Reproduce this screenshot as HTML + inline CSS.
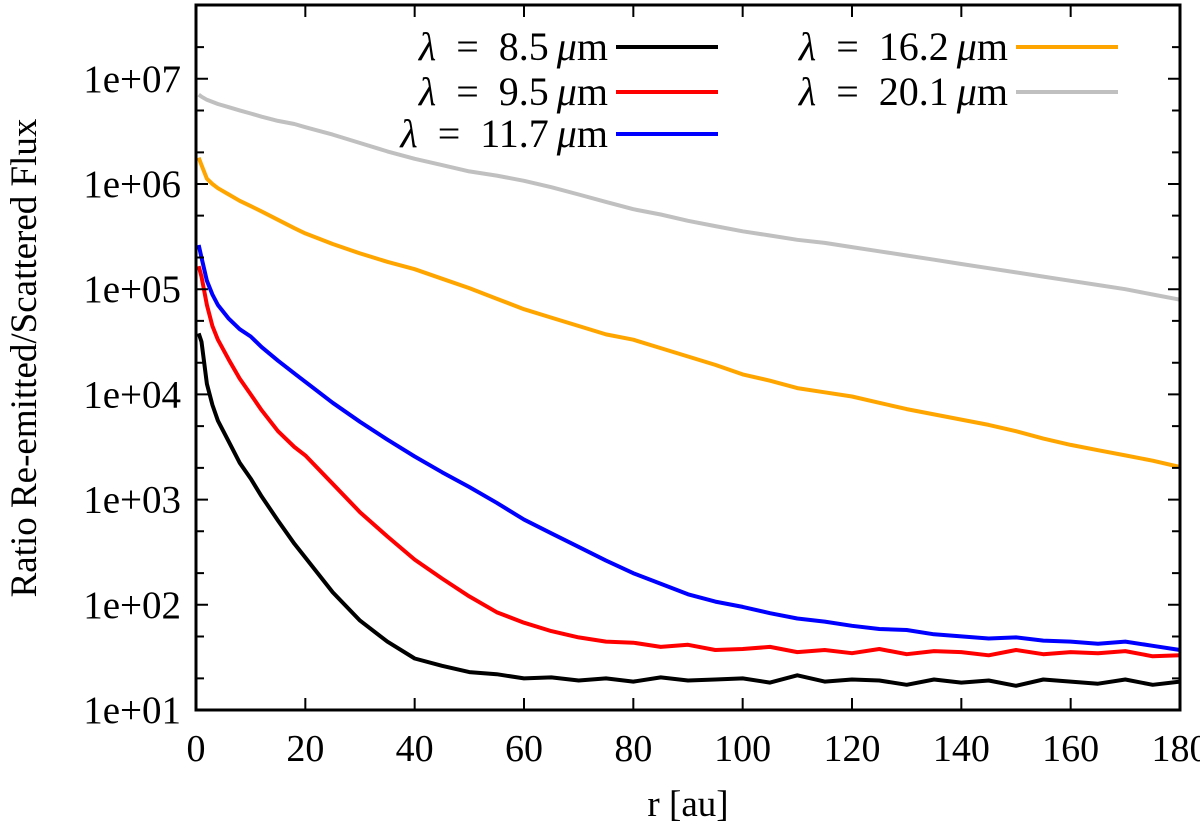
<!DOCTYPE html>
<html><head><meta charset="utf-8"><style>
body{margin:0;background:#fff}
svg text{font-family:"Liberation Serif",serif;fill:#000}
</style></head><body>
<svg id="chart" width="1200" height="833" viewBox="0 0 1200 833" xmlns="http://www.w3.org/2000/svg">
<g id="series"></g>
<rect x="196" y="5" width="984" height="705" fill="none" stroke="#000" stroke-width="3"/>
<g id="ticks"></g>
<text x="688" y="816" font-size="37" text-anchor="middle">r [au]</text>
<text transform="translate(36,358) rotate(-90)" font-size="37" text-anchor="middle">Ratio Re-emitted/Scattered Flux</text>
<g id="legend"></g>
</svg>
<script>
const rVals=[0.5,1,2,3,4,6,8,10,12,15,18,20,25,30,35,40,45,50,55,60,65,70,75,80,85,90,95,100,105,110,115,120,125,130,135,140,145,150,155,160,165,170,175,180];
const logBlack=[4.58,4.5,4.1,3.9,3.75,3.55,3.35,3.2,3.03,2.8,2.58,2.45,2.12,1.85,1.65,1.49,1.42,1.36,1.34,1.30,1.31,1.28,1.30,1.27,1.31,1.28,1.29,1.30,1.26,1.33,1.27,1.29,1.28,1.24,1.29,1.26,1.28,1.23,1.29,1.27,1.25,1.29,1.24,1.27];
const logRed=[5.22,5.12,4.85,4.65,4.52,4.33,4.15,4.0,3.85,3.65,3.5,3.42,3.15,2.88,2.65,2.43,2.25,2.08,1.93,1.83,1.75,1.69,1.65,1.64,1.60,1.62,1.57,1.58,1.60,1.55,1.57,1.54,1.58,1.53,1.56,1.55,1.52,1.57,1.53,1.55,1.54,1.56,1.51,1.52];
const logBlue=[5.42,5.3,5.08,4.95,4.85,4.72,4.62,4.55,4.45,4.32,4.2,4.12,3.92,3.74,3.57,3.41,3.26,3.12,2.97,2.81,2.68,2.55,2.42,2.3,2.2,2.1,2.03,1.98,1.92,1.87,1.84,1.80,1.77,1.76,1.72,1.70,1.68,1.69,1.66,1.65,1.63,1.65,1.61,1.57];
const logOrange=[6.25,6.18,6.05,6.0,5.96,5.9,5.84,5.79,5.74,5.66,5.58,5.53,5.43,5.34,5.26,5.19,5.1,5.01,4.91,4.81,4.73,4.65,4.57,4.52,4.44,4.36,4.28,4.19,4.13,4.06,4.02,3.98,3.92,3.86,3.81,3.76,3.71,3.65,3.58,3.52,3.47,3.42,3.37,3.31];
const logGray=[6.85,6.83,6.8,6.78,6.76,6.73,6.7,6.67,6.64,6.6,6.57,6.54,6.47,6.39,6.31,6.24,6.18,6.12,6.08,6.03,5.97,5.9,5.83,5.76,5.71,5.65,5.6,5.55,5.51,5.47,5.44,5.4,5.36,5.32,5.28,5.24,5.2,5.16,5.12,5.08,5.04,5.0,4.95,4.9];
const xTicks=[0,20,40,60,80,100,120,140,160,180];
const yTickExp=[1,2,3,4,5,6,7];
const yTickLabels=["1e+01","1e+02","1e+03","1e+04","1e+05","1e+06","1e+07"];
const seriesWave=["8.5","9.5","11.7","16.2","20.1"];

const X0=196,X1=1180,Y0=710,DEC=105.2;
const sx=r=>X0+r/180*(X1-X0);
const sy=l=>Y0-(l-1)*DEC;
const NS="http://www.w3.org/2000/svg";
function mk(t,a,p){const e=document.createElementNS(NS,t);for(const k in a)e.setAttribute(k,a[k]);p.appendChild(e);return e;}
const tk=document.getElementById('ticks');
xTicks.forEach(v=>{
  const x=sx(v);
  const l=mk('path',{d:`M${x},${Y0}v-12M${x},5v12`,stroke:'#000','stroke-width':2},tk);
  
  
  const t=mk('text',{x:x,y:761,'font-size':38,'text-anchor':'middle'},tk);
  t.textContent=v;
  
  
});
yTickExp.forEach((e,i)=>{
  const y=sy(e);
  const l=mk('path',{d:`M${X0},${y}h12M${X1},${y}h-12`,stroke:'#000','stroke-width':2},tk);
  
  
  [2,5].forEach(m=>{const ym=sy(e+Math.log10(m));if(ym>6){
    const n=mk('path',{d:`M${X0},${ym}h8M${X1},${ym}h-8`,stroke:'#000','stroke-width':2},tk);
    
    }});
  const t=mk('text',{x:181,y:y+13,'font-size':39,'text-anchor':'end'},tk);
  t.textContent=yTickLabels[i];
  
  
});
const sg=document.getElementById('series');
const all=[logBlack,logRed,logBlue,logOrange,logGray];
const cols=['#000','#f00','#00f','#ffa500','#c0c0c0'];
const nms=['series-8-5um','series-9-5um','series-11-7um','series-16-2um','series-20-1um'];
[4,3,2,1,0].forEach(i=>{
  const d=rVals.map((r,j)=>(j?'L':'M')+sx(r).toFixed(1)+','+sy(all[i][j]).toFixed(1)).join('');
  const p=mk('path',{d:d,fill:'none',stroke:cols[i],'stroke-width':4,'stroke-linejoin':'round'},sg);
  
  
});
const lg=document.getElementById('legend');
const pos=[[608,47],[608,92],[608,134],[1008,47],[1008,92]];
seriesWave.forEach((w,i)=>{
  const [x,y]=pos[i];
  const t=mk('text',{x:x,y:y+13,'font-size':40,'text-anchor':'end'},lg);
  t.innerHTML='<tspan font-style="italic">λ</tspan>\u2002=\u2002'+w+'\u2009<tspan font-style="italic">μ</tspan>m';
  
  
  const l=mk('line',{x1:x+8,x2:x+110,y1:y,y2:y,stroke:cols[i],'stroke-width':4},lg);
  
  
});
</script>
</body></html>
